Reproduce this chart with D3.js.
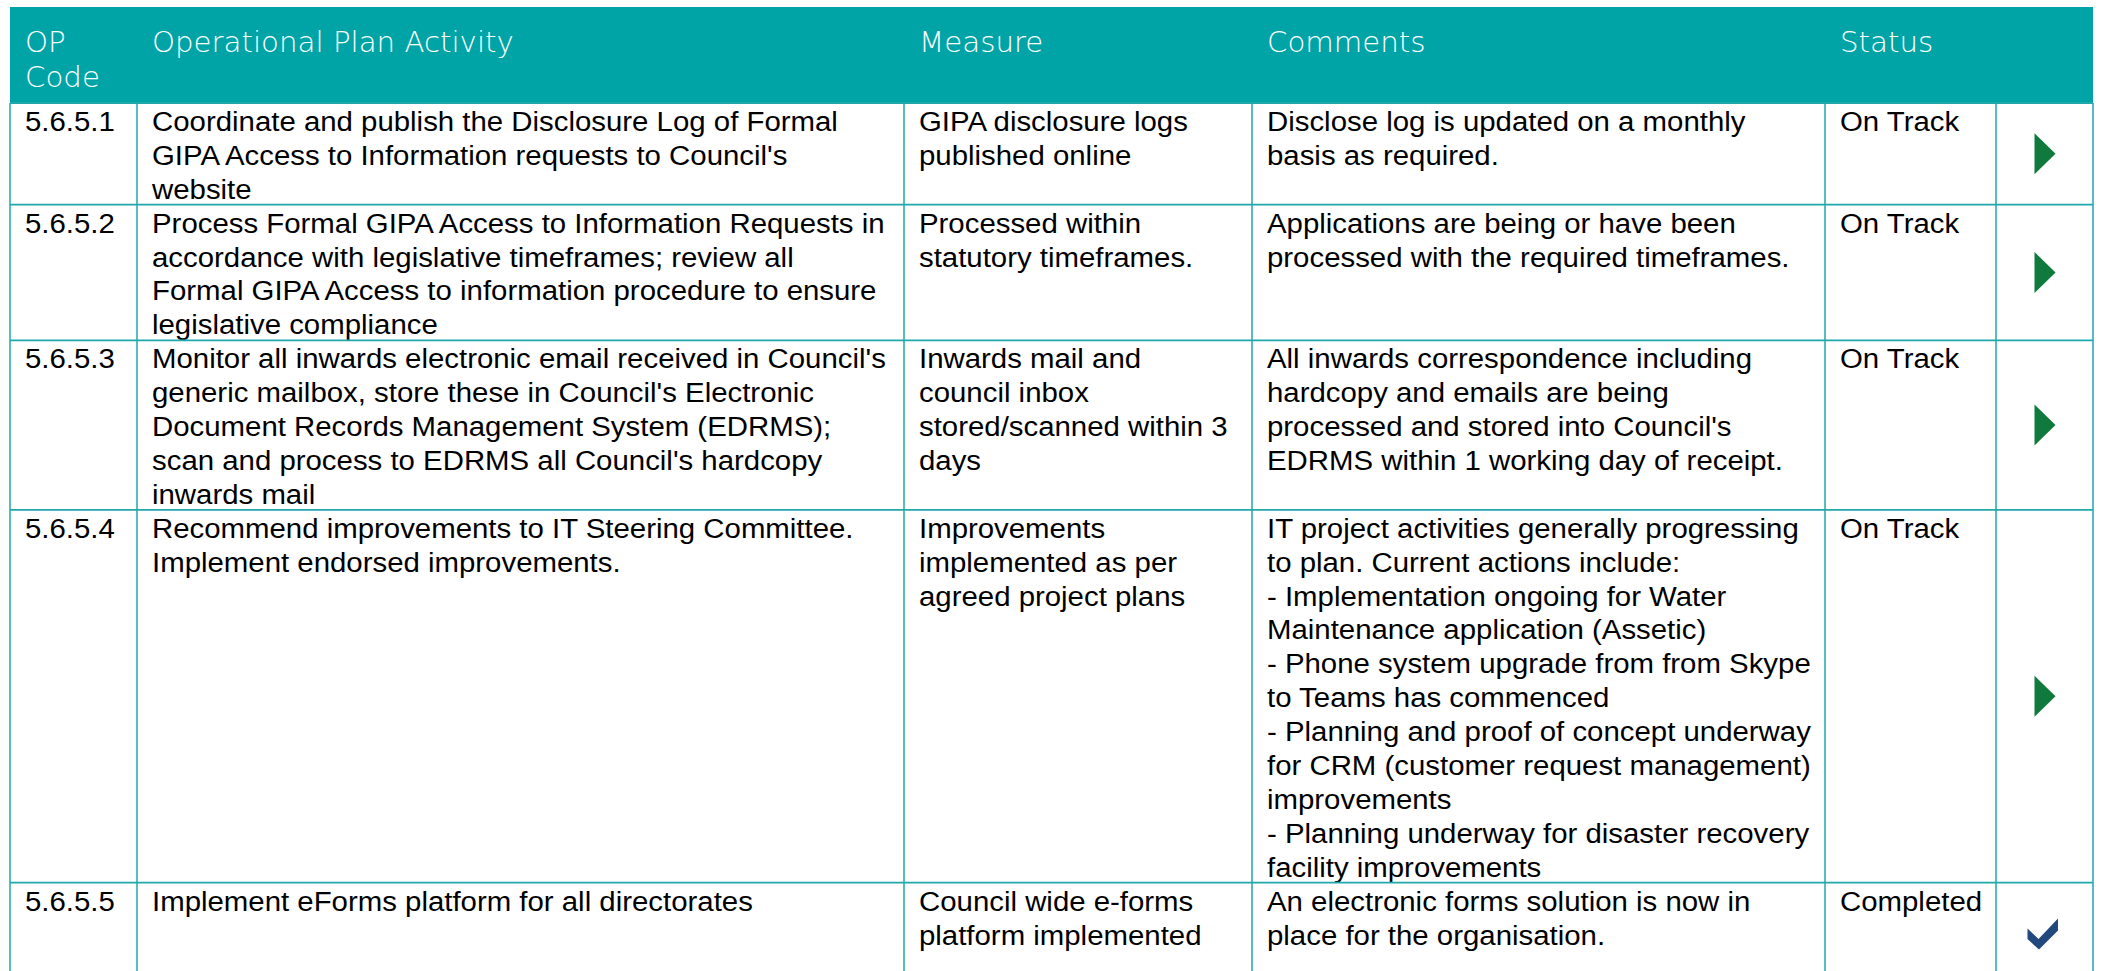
<!DOCTYPE html>
<html>
<head>
<meta charset="utf-8">
<script src="https://cdn.jsdelivr.net/npm/d3@7"></script>
<style>
  html, body { margin: 0; padding: 0; background: #ffffff; overflow: hidden; }
  svg { display: block; }
</style>
</head>
<body>
<svg id="chart" width="2101" height="971"></svg>
<script>
// ---------------- DATA ----------------
const headers = [["OP", "Code"], ["Operational Plan Activity"], ["Measure"], ["Comments"], ["Status"], [""]];

const codes = ["5.6.5.1", "5.6.5.2", "5.6.5.3", "5.6.5.4", "5.6.5.5"];

const activities = [
  ["Coordinate and publish the Disclosure Log of Formal", "GIPA Access to Information requests to Council's", "website"],
  ["Process Formal GIPA Access to Information Requests in", "accordance with legislative timeframes; review all", "Formal GIPA Access to information procedure to ensure", "legislative compliance"],
  ["Monitor all inwards electronic email received in Council's", "generic mailbox, store these in Council's Electronic", "Document Records Management System (EDRMS);", "scan and process to EDRMS all Council's hardcopy", "inwards mail"],
  ["Recommend improvements to IT Steering Committee.", "Implement endorsed improvements."],
  ["Implement eForms platform for all directorates"]
];

const measures = [
  ["GIPA disclosure logs", "published online"],
  ["Processed within", "statutory timeframes."],
  ["Inwards mail and", "council inbox", "stored/scanned within 3", "days"],
  ["Improvements", "implemented as per", "agreed project plans"],
  ["Council wide e-forms", "platform implemented"]
];

const comments = [
  ["Disclose log is updated on a monthly", "basis as required."],
  ["Applications are being or have been", "processed with the required timeframes."],
  ["All inwards correspondence including", "hardcopy and emails are being", "processed and stored into Council's", "EDRMS within 1 working day of receipt."],
  ["IT project activities generally progressing", "to plan. Current actions include:", "- Implementation ongoing for Water", "Maintenance application (Assetic)", "- Phone system upgrade from from Skype", "to Teams has commenced", "- Planning and proof of concept underway", "for CRM (customer request management)", "improvements", "- Planning underway for disaster recovery", "facility improvements"],
  ["An electronic forms solution is now in", "place for the organisation."]
];

const statuses = ["On Track", "On Track", "On Track", "On Track", "Completed"];
const icons = ["arrow", "arrow", "arrow", "arrow", "tick"];

// ---------------- LAYOUT / STYLE ----------------
const svg = d3.select("#chart");
const colEdges = [10, 137, 904, 1252, 1825, 1996, 2093];
const headerTop = 7, headerBottom = 103;
const lineH = 33.9;
const minLines = 3;
const teal = "#00A4A7";
const lineColor = "#1EA8AB";
const bodyFont = "'Liberation Sans', Arial, sans-serif";
const headFont = "'DejaVu Sans ExtraLight', 'DejaVu Sans', sans-serif";
const bodyStretch = 1.05;
const headStretch = 1.045;

const rows = codes.map((c, i) => ({
  cells: [[c], activities[i], measures[i], comments[i], [statuses[i]]],
  icon: icons[i]
}));
rows.forEach(r => { r.lines = Math.max(minLines, d3.max(r.cells, c => c.length)); });
let acc = 0;
rows.forEach(r => { r.start = acc; acc += r.lines; r.end = acc; });

const y = d3.scaleLinear().domain([0, acc]).range([headerBottom, headerBottom + acc * lineH]);
const x = d3.scaleOrdinal().domain(d3.range(colEdges.length)).range(colEdges);

// header
svg.append("rect")
  .attr("x", x(0)).attr("y", headerTop)
  .attr("width", x(6) - x(0)).attr("height", headerBottom - headerTop)
  .attr("fill", teal);

const hg = svg.append("g");
headers.forEach((h, ci) => {
  const x0 = x(ci) + 15;
  const t = hg.append("text")
    .attr("transform", `translate(${x0},0) scale(${headStretch},1) translate(${-x0},0)`)
    .attr("x", x0)
    .attr("y", 52)
    .attr("font-family", headFont)
    .attr("font-weight", 200)
    .attr("font-size", 28)
    .attr("fill", "#ffffff");
  h.forEach((ln, li) => {
    t.append("tspan").attr("x", x0).attr("dy", li === 0 ? 0 : 35).text(ln);
  });
});

// body rows
const rg = svg.selectAll("g.row").data(rows).join("g").attr("class", "row");

rg.each(function(r) {
  const g = d3.select(this);
  r.cells.forEach((cell, ci) => {
    const x0 = x(ci) + 15;
    const t = g.append("text")
      .attr("transform", `translate(${x0},0) scale(${bodyStretch},1) translate(${-x0},0)`)
      .attr("font-family", bodyFont)
      .attr("font-size", 28)
      .attr("fill", "#000000");
    cell.forEach((ln, li) => {
      t.append("tspan")
        .attr("x", x0)
        .attr("y", y(r.start + li) + 28)
        .text(ln);
    });
  });
  const cx = (x(5) + x(6)) / 2;
  const cy = (y(r.start) + y(r.end)) / 2;
  if (r.icon === "arrow") {
    g.append("path")
      .attr("d", d3.line()([[cx - 10, cy - 20.5], [cx + 11, cy], [cx - 10, cy + 20.5]]) + "Z")
      .attr("fill", "#0F7A3C");
  } else {
    g.append("path")
      .attr("d", d3.line()([[cx - 17, cy - 5], [cx - 6, cy + 5.5], [cx + 13.5, cy - 15], [cx + 13.5, cy - 3], [cx - 5.5, cy + 16], [cx - 17, cy + 5.5]]) + "Z")
      .attr("fill", "#22497E");
  }
});

// grid lines
const bottom = y(acc);
svg.selectAll("line.h").data(rows).join("line")
  .attr("class", "h")
  .attr("x1", x(0)).attr("x2", x(6))
  .attr("y1", r => y(r.end)).attr("y2", r => y(r.end))
  .attr("stroke", lineColor).attr("stroke-width", 1.8);
svg.append("line")
  .attr("x1", x(0)).attr("x2", x(6))
  .attr("y1", headerBottom).attr("y2", headerBottom)
  .attr("stroke", lineColor).attr("stroke-width", 1.8);
svg.selectAll("line.v").data(d3.range(colEdges.length)).join("line")
  .attr("class", "v")
  .attr("x1", i => x(i)).attr("x2", i => x(i))
  .attr("y1", headerBottom).attr("y2", bottom)
  .attr("stroke", lineColor).attr("stroke-width", 1.5);
</script>
</body>
</html>
